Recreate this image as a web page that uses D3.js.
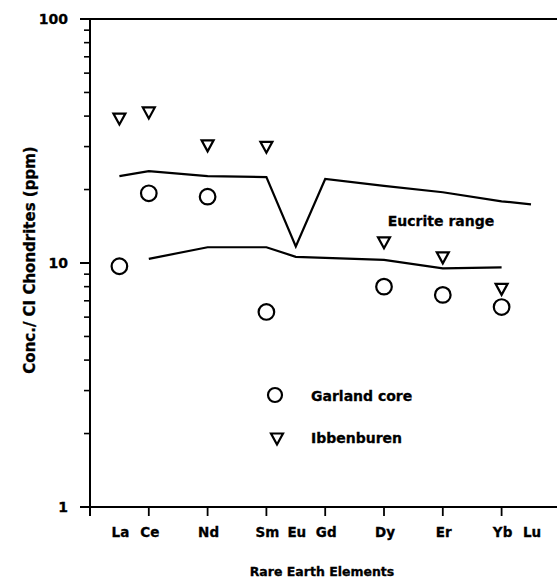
<!DOCTYPE html>
<html><head><meta charset="utf-8">
<script src="https://cdn.jsdelivr.net/npm/d3@7"></script>
<style>
html,body{margin:0;padding:0;background:#fff;}
svg{display:block;}
text{font-family:"DejaVu Sans",sans-serif;font-weight:bold;fill:#000;stroke:#000;stroke-width:0.3px;}
</style></head>
<body>
<svg id="chart" width="557" height="578"></svg>
<script>
// ---- data ----
const elements = ["La","Ce","Nd","Sm","Eu","Gd","Dy","Er","Yb","Lu"];
const atomicNumbers = [57,58,60,62,63,64,66,68,70,71];
const garlandCore = [9.7,19.3,18.7,6.3,null,null,8.0,7.4,6.6,null];
const ibbenburen = [38.9,41.2,30.2,29.8,null,null,12.1,10.5,7.8,null];
const eucriteUpper = [22.7,23.8,22.7,22.5,11.7,22.1,20.7,19.5,17.9,17.4];
const eucriteLower = [null,10.4,11.6,11.6,10.6,10.5,10.3,9.5,9.6,null];
const yTickLabels = [1,10,100];
const xTickValues = [56,58,60,62,64,66,68,70,72];

const svg = d3.select("#chart");
const x = d3.scaleLinear().domain([56,72]).range([90,560.4]);
const y = d3.scaleLog().domain([1,100]).range([507,19]);

// ---- axes ----
svg.append("line").attr("x1",80).attr("x2",560).attr("y1",y(100)).attr("y2",y(100))
  .attr("stroke","#000").attr("stroke-width",2);
svg.append("line").attr("x1",80).attr("x2",560).attr("y1",y(1)).attr("y2",y(1))
  .attr("stroke","#000").attr("stroke-width",2);
svg.append("line").attr("x1",x(56)).attr("x2",x(56)).attr("y1",y(100)).attr("y2",516)
  .attr("stroke","#000").attr("stroke-width",2);

// y ticks
const minor = [];
for (const d of [1,10]) for (let k=2;k<=9;k++) minor.push(d*k);
svg.append("g").selectAll("line").data(minor).join("line")
  .attr("x1",84).attr("x2",x(56)).attr("y1",d=>y(d)).attr("y2",d=>y(d))
  .attr("stroke","#000").attr("stroke-width",1.6);
svg.append("g").selectAll("line").data(yTickLabels).join("line")
  .attr("x1",80).attr("x2",x(56)).attr("y1",d=>y(d)).attr("y2",d=>y(d))
  .attr("stroke","#000").attr("stroke-width",2);
svg.append("g").selectAll("text").data(yTickLabels).join("text")
  .attr("x",68).attr("y",d=>y(d)).attr("dy","0.36em")
  .attr("text-anchor","end").attr("font-size",14).text(d=>d);

// x ticks
svg.append("g").selectAll("line").data(xTickValues).join("line")
  .attr("x1",d=>x(d)).attr("x2",d=>x(d)).attr("y1",y(1)).attr("y2",516)
  .attr("stroke","#000").attr("stroke-width",1.8);
svg.append("g").selectAll("text").data(elements).join("text")
  .attr("x",(d,i)=>x(atomicNumbers[i])+1).attr("y",537)
  .attr("text-anchor","middle").attr("font-size",13.5).text(d=>d);

// axis titles
svg.append("text").attr("x",322).attr("y",576).attr("text-anchor","middle")
  .attr("font-size",12.5).text("Rare Earth Elements");
svg.append("text").attr("transform","translate(35,260) rotate(-90)")
  .attr("text-anchor","middle").attr("font-size",15).text("Conc./ CI Chondrites (ppm)");

// ---- eucrite range lines ----
const line = d3.line().defined(d=>d.v!=null).x(d=>x(d.z)).y(d=>y(d.v));
for (const series of [eucriteUpper, eucriteLower]) {
  const pts = series.map((v,i)=>({z:atomicNumbers[i], v}));
  svg.append("path").attr("d", line(pts)).attr("fill","none")
    .attr("stroke","#000").attr("stroke-width",2.2).attr("stroke-linejoin","miter");
}
svg.append("text").attr("x",441).attr("y",226).attr("text-anchor","middle")
  .attr("font-size",14).text("Eucrite range");

// ---- markers ----
const triPath = "M-6,-5.5L6,-5.5L0,5.5Z";
const gPts = garlandCore.map((v,i)=>({z:atomicNumbers[i], v})).filter(d=>d.v!=null);
const iPts = ibbenburen.map((v,i)=>({z:atomicNumbers[i], v})).filter(d=>d.v!=null);
svg.append("g").selectAll("circle").data(gPts).join("circle")
  .attr("cx",d=>x(d.z)).attr("cy",d=>y(d.v)).attr("r",7.8)
  .attr("fill","none").attr("stroke","#000").attr("stroke-width",2.2);
svg.append("g").selectAll("path").data(iPts).join("path")
  .attr("transform",d=>`translate(${x(d.z)},${y(d.v)})`).attr("d",triPath)
  .attr("fill","none").attr("stroke","#000").attr("stroke-width",2.2).attr("stroke-linejoin","miter");

// ---- legend ----
svg.append("circle").attr("cx",275).attr("cy",395).attr("r",7)
  .attr("fill","none").attr("stroke","#000").attr("stroke-width",2.2);
svg.append("path").attr("transform","translate(277,439)").attr("d",triPath)
  .attr("fill","none").attr("stroke","#000").attr("stroke-width",2.2);
svg.append("text").attr("x",311).attr("y",396).attr("dy","0.36em")
  .attr("font-size",14).text("Garland core");
svg.append("text").attr("x",311).attr("y",438).attr("dy","0.36em")
  .attr("font-size",14).text("Ibbenburen");
</script>
</body></html>
